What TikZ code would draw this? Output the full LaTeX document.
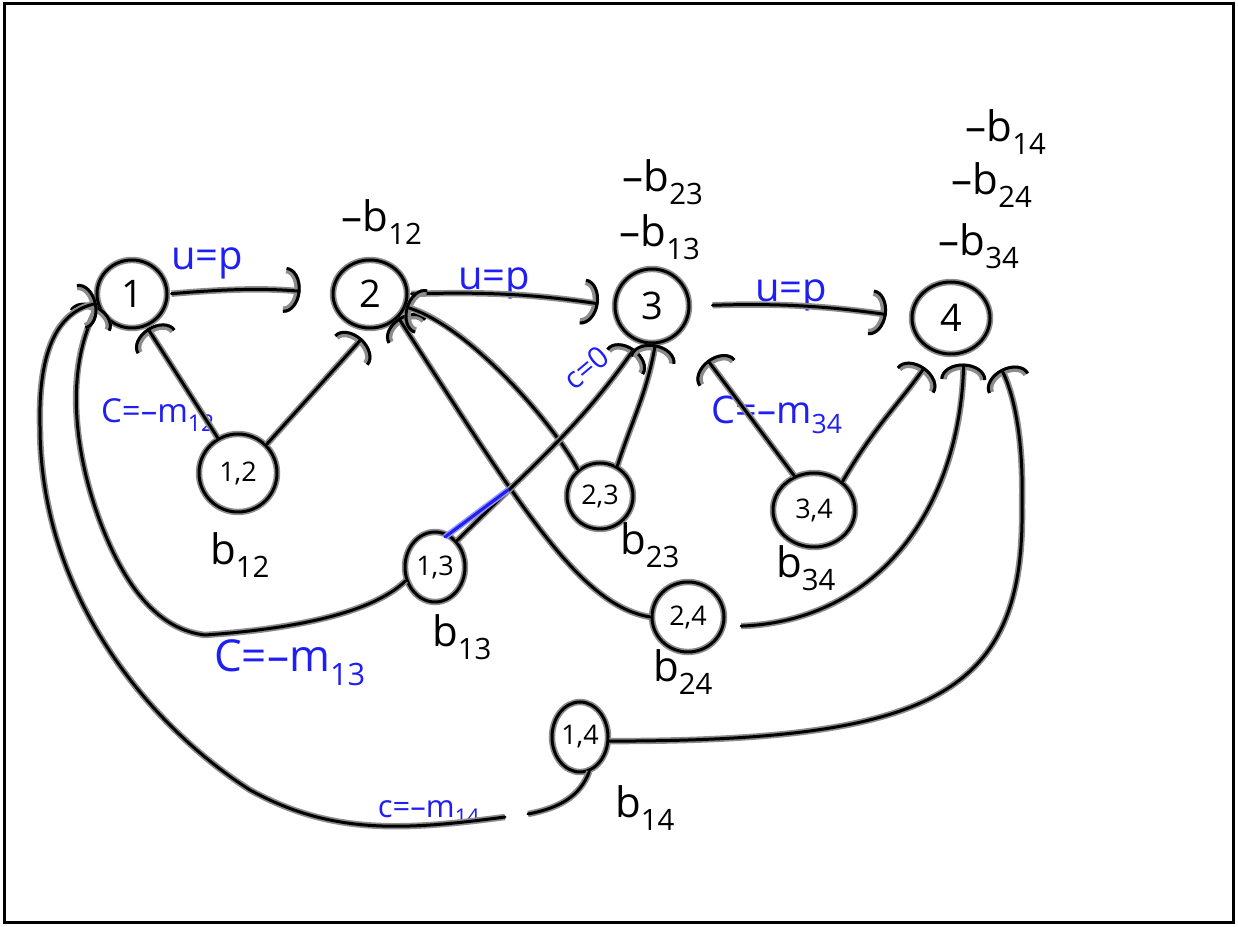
\documentclass[tikz,border=0pt]{standalone}
\usepackage{fontspec}
\setmainfont{Open Sans}
\usetikzlibrary{arrows.meta,shapes.geometric,calc}
\definecolor{pblue}{RGB}{30,30,245}
\definecolor{halo}{RGB}{140,140,140}
\definecolor{bhalo}{RGB}{150,150,250}
\begin{document}
\begin{tikzpicture}[x=1pt,y=1pt,
  pen/.style={line width=3pt, draw=black, line cap=round, preaction={draw=halo, line width=6.4pt}},
  bpen/.style={line width=3pt, draw=pblue, line cap=round, preaction={draw=bhalo, line width=6pt}},
  arr/.style={-{Arc Barb[length=16pt,width=46pt]}},
  st/.style={ellipse, pen, inner sep=0pt, font=\fontsize{38}{40}\selectfont},
  pr/.style={ellipse, pen, inner sep=0pt, font=\fontsize{27}{30}\selectfont},
  lab/.style={font=\fontsize{42}{46}\selectfont, inner sep=0pt},
  blab/.style={text=pblue, inner sep=0pt},
]
\useasboundingbox (0,0) rectangle (1238,926);
\draw[line width=3pt] (4.5,4) rectangle (1233.5,922.5);

% nodes
\node[st, minimum width=70pt, minimum height=68pt] (n1) at (132,632) {1};
\node[st, minimum width=74pt, minimum height=68pt] (n2) at (370,632) {2};
\node[st, minimum width=74pt, minimum height=74pt] (n3) at (652,620) {3};
\node[st, minimum width=78pt, minimum height=72pt] (n4) at (951,608) {4};
\node[pr, minimum width=78pt, minimum height=78pt] (n12) at (238,453) {1,2};
\node[pr, minimum width=60pt, minimum height=70pt] (n13) at (435,359) {1,3};
\node[pr, minimum width=66pt, minimum height=66pt] (n23) at (600,430) {2,3};
\node[pr, minimum width=82pt, minimum height=74pt] (n34) at (814,416) {3,4};
\node[pr, minimum width=72pt, minimum height=70pt] (n24) at (688,309) {2,4};
\node[pr, minimum width=56pt, minimum height=70pt] (n14) at (580,189) {1,4};

% labels
\node[lab] (tb12) at (382,704) {–b\textsubscript{12}};
\node[lab] (tb23) at (663,744) {–b\textsubscript{23}};
\node[lab] (tb13) at (660,689) {–b\textsubscript{13}};
\node[lab] (tb14) at (1006,794) {–b\textsubscript{14}};
\node[lab] (tb24) at (992,741) {–b\textsubscript{24}};
\node[lab] (tb34) at (979,680) {–b\textsubscript{34}};
\node[lab] (lb12) at (240,371) {b\textsubscript{12}};
\node[lab] (lb13) at (462,289) {b\textsubscript{13}};
\node[lab] (lb23) at (650,381) {b\textsubscript{23}};
\node[lab] (lb34) at (806,358) {b\textsubscript{34}};
\node[lab] (lb24) at (683,254) {b\textsubscript{24}};
\node[lab] (lb14) at (645,118) {b\textsubscript{14}};

\node[blab, font=\fontsize{40}{44}\selectfont] (u1) at (207,663) {u=p};
\node[blab, font=\fontsize{40}{44}\selectfont] (u2) at (494,643) {u=p};
\node[blab, font=\fontsize{40}{44}\selectfont] (u3) at (791,631) {u=p};
\node[blab, font=\fontsize{33}{36}\selectfont] (c12) at (158,511) {C=–m\textsubscript{12}};
\node[blab, font=\fontsize{30}{34}\selectfont, rotate=40] (c0) at (586,558) {c=0};
\node[blab, font=\fontsize{38}{42}\selectfont] (c34) at (777,511) {C=–m\textsubscript{34}};
\node[blab, font=\fontsize{44}{48}\selectfont] (c13) at (290,263) {C=–m\textsubscript{13}};
\node[blab, font=\fontsize{31}{34}\selectfont] (c14) at (429,113) {c=–m\textsubscript{14}};

% u=p edges
\draw[pen,arr,shorten <=3pt,shorten >=31pt] (n1.east) to[bend left=5] (n2.west);
\draw[pen,arr,shorten <=3pt,shorten >=15pt] (n2.east) to[bend left=5] (n3.west);
\draw[pen,arr,shorten <=22pt,shorten >=24pt] (n3.east) to[bend left=5] (n4.west);

% into 1
\draw[pen,arr,shorten >=2pt] (n12.120) -- (n1.-66);
\draw[pen,arr] (n13.205) .. controls (370,310) and (280,296) .. (205,291)
  .. controls (170,295) and (140,320) .. (115,370)
  .. controls (85,430) and (55,540) .. (n1.200);
\draw[pen,arr] (n14.-75) .. controls (580,130) and (560,118) .. (528,112)
  (505,109) .. controls (400,95) and (330,92) .. (250,136)
  .. controls (150,200) and (40,330) .. (40,500)
  .. controls (38,580) and (60,615) .. (n1.195);

% into 2
\draw[pen,arr,shorten >=12pt] (n12.45) -- (n2.-90);
\draw[pen,arr] (n24.west) .. controls (580,320) and (520,420) .. (n2.-40);
\draw[pen,arr] (n23.130) .. controls (555,500) and (470,600) .. (n2.-20);

% into 3
\draw[pen,arr,shorten >=8pt] (n13.50) to[out=45,in=-125] (n3.-110);
\draw[bpen] (445,389) -- (508,436);
\draw[pen,arr] (n23.60) to[out=72,in=-100] (n3.-85);
\draw[pen,arr,shorten >=40pt] (n34.120) -- (n3.-35);

% into 4
\draw[pen,arr,shorten >=18pt] (n34.45) to[out=60,in=-125] (n4.-115);
\draw[pen,arr,shorten <=17pt,shorten >=10pt] (n24.-15) .. controls (880,305) and (960,420) .. (n4.-70);
\draw[pen,arr,shorten >=35pt] (n14.-8) .. controls (930,185) and (1025,230) .. (1022,420)
  .. controls (1024,500) and (1010,540) .. (n4.-30);
\end{tikzpicture}
\end{document}
